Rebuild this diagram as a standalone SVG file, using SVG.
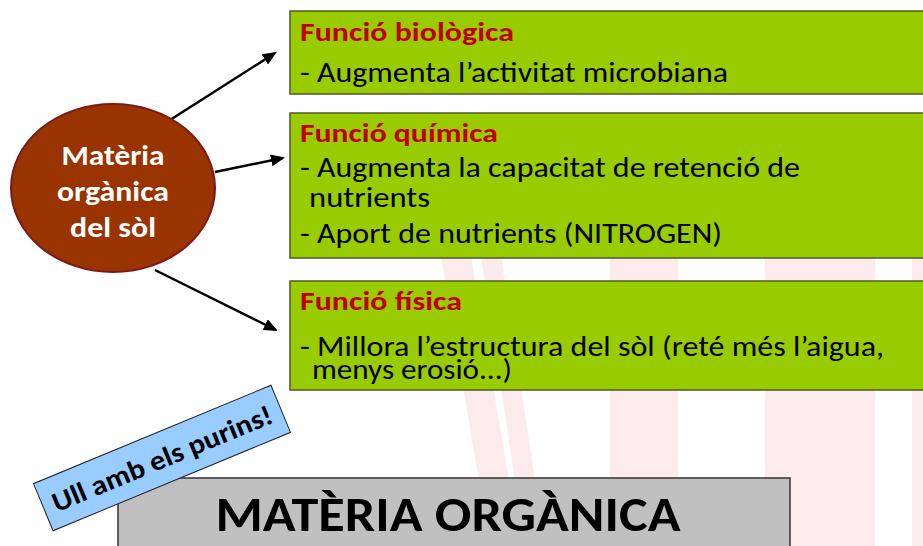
<svg xmlns="http://www.w3.org/2000/svg" width="923" height="546" viewBox="0 0 923 546">
<style>
  .box{fill:#99CC00;stroke:#4d5a2a;stroke-width:1.5}
  .hd{font-family:Carlito,Lato,"Open Sans",sans-serif;font-weight:bold;font-size:27px;fill:#C00000}
  .tx{font-family:Carlito,Lato,"Open Sans",sans-serif;font-size:28px;fill:#000}
  .el{font-family:Carlito,Lato,"Open Sans",sans-serif;font-weight:bold;font-size:28px;fill:#fff;text-anchor:middle}
  .cn{stroke:#000;stroke-width:2.5;fill:none;marker-end:url(#ah)}
  .bg{fill:#f7d3d8;opacity:0.45}
</style>
<defs>
  <marker id="ah" markerWidth="14" markerHeight="12" refX="12" refY="6" orient="auto" markerUnits="userSpaceOnUse">
    <path d="M0,0 L14,6 L0,12 Z" fill="#000"/>
  </marker>
</defs>
<rect width="923" height="546" fill="#fff"/>
<g id="background">
  <polygon class="bg" points="440,250 470,250 520,546 490,546"/>
  <polygon class="bg" points="480,250 500,250 545,546 525,546"/>
  <rect class="bg" x="610" y="250" width="68" height="296"/>
  <rect class="bg" x="765" y="250" width="110" height="296"/>
  <rect class="bg" x="912" y="250" width="11" height="296"/>
</g>
<g id="connectors">
  <line class="cn" x1="170" y1="120" x2="275" y2="53"/>
  <line class="cn" x1="215" y1="172" x2="283" y2="158"/>
  <line class="cn" x1="155" y1="270" x2="276" y2="330"/>
</g>
<g id="node-materia">
  <ellipse cx="113" cy="188" rx="102" ry="84" fill="#993300" stroke="#7a1a1a" stroke-width="2"/>
  <text class="el" x="113" y="165" textLength="103" lengthAdjust="spacingAndGlyphs">Matèria</text>
  <text class="el" x="113" y="201" textLength="112" lengthAdjust="spacingAndGlyphs">orgànica</text>
  <text class="el" x="113" y="237" textLength="86" lengthAdjust="spacingAndGlyphs">del sòl</text>
</g>
<g id="node-biologica">
  <rect class="box" x="290" y="11" width="640" height="83"/>
  <text class="hd" x="300" y="41" textLength="214" lengthAdjust="spacingAndGlyphs">Funció biològica</text>
  <text class="tx" x="300" y="82" textLength="428" lengthAdjust="spacingAndGlyphs">- Augmenta l’activitat microbiana</text>
</g>
<g id="node-quimica">
  <rect class="box" x="290" y="113" width="640" height="145"/>
  <text class="hd" x="300" y="142" textLength="198" lengthAdjust="spacingAndGlyphs">Funció química</text>
  <text class="tx" x="300" y="177" textLength="500" lengthAdjust="spacingAndGlyphs">- Augmenta la capacitat de retenció de</text>
  <text class="tx" x="309" y="207" textLength="121" lengthAdjust="spacingAndGlyphs">nutrients</text>
  <text class="tx" x="300" y="243" textLength="422" lengthAdjust="spacingAndGlyphs">- Aport de nutrients (NITROGEN)</text>
</g>
<g id="node-fisica">
  <rect class="box" x="290" y="281" width="640" height="109"/>
  <text class="hd" x="300" y="310" textLength="162" lengthAdjust="spacingAndGlyphs">Funció física</text>
  <text class="tx" x="300" y="356" textLength="584" lengthAdjust="spacingAndGlyphs">- Millora l’estructura del sòl (reté més l’aigua,</text>
  <text class="tx" x="312" y="379" textLength="200" lengthAdjust="spacingAndGlyphs">menys erosió...)</text>
</g>
<g id="node-title">
  <rect x="118" y="478" width="672" height="80" fill="#C0C0C0" stroke="#333" stroke-width="1.5"/>
  <text x="448" y="531" text-anchor="middle" font-family="Carlito,Lato,'Open Sans',sans-serif" font-weight="bold" font-size="49" textLength="465" lengthAdjust="spacingAndGlyphs">MATÈRIA ORGÀNICA</text>
</g>
<g id="node-callout" transform="translate(162,458) rotate(-22.5)">
  <rect x="-128.5" y="-25.5" width="257" height="51" fill="#99CCFF" stroke="#222" stroke-width="1"/>
  <text x="0" y="10" text-anchor="middle" font-family="Carlito,Lato,'Open Sans',sans-serif" font-weight="bold" font-size="28" textLength="236" lengthAdjust="spacingAndGlyphs">Ull amb els purins!</text>
</g>
</svg>
